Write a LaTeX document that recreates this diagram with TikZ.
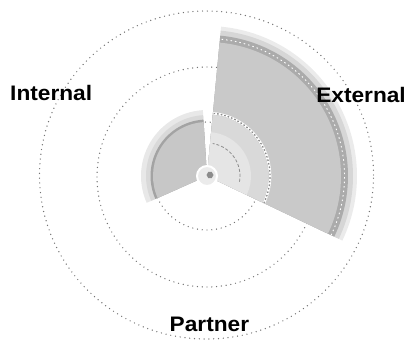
\documentclass[tikz,border=0pt]{standalone}
\usepackage{fontspec}
\usetikzlibrary{shapes.geometric}
\newfontfamily\lblfont[FakeStretch=1.08]{Liberation Sans}
\begin{document}
\begin{tikzpicture}[x=1pt,y=1pt,
  dotc/.style={draw=black!55, line width=1.4pt, line cap=round, dash pattern=on 0pt off 4.8pt},
  lbl/.style={font=\lblfont\bfseries\fontsize{21}{21}\selectfont, text=black, inner sep=0pt}]
\useasboundingbox (0,0) rectangle (406,341);
\coordinate (C) at (207,165);
\newcommand{\sect}[4]{\fill[#4] (C) -- ++(#1:#3) arc[start angle=#1, end angle=#2, radius=#3] -- cycle;}
\newcommand{\arcat}[4]{\draw[#4] (C) ++(#1:#3) arc[start angle=#1, end angle=#2, radius=#3];}
% dotted orbits
\draw[dotc] (206.5,166) ellipse [x radius=167, y radius=164];
\draw[dotc] (207,164) circle [radius=110];
\draw[dotc] (C) circle [radius=54];
% external sector
\sect{-25.5}{84.6}{150}{fill=black!8}
\sect{-25.5}{84.6}{146}{fill=black!16}
\sect{-25.5}{84.6}{141}{fill=black!33}
\arcat{-25.5}{84.6}{137.5}{draw=white, line width=0.9pt, dash pattern=on 1.5pt off 3pt}
\sect{-25.5}{84.6}{134}{fill=black!21}
\sect{-25.5}{84.6}{64}{fill=black!27}
\arcat{-25.5}{84.6}{63}{draw=white, line width=2.6pt}
\arcat{-25.5}{84.6}{63}{draw=black!45, line width=1.3pt, dash pattern=on 1.6pt off 2pt}
\sect{-25.5}{84.6}{61.5}{fill=black!15}
\sect{-25.5}{84.6}{44}{fill=black!10}
\arcat{-10}{80}{33}{draw=black!45, line width=0.8pt, dash pattern=on 3pt off 2pt}
% internal sector
\sect{93.6}{204}{66}{fill=black!9}
\sect{93.6}{204}{61}{fill=black!15}
\sect{93.6}{204}{56.5}{fill=black!36}
\sect{93.6}{204}{54}{fill=black!22}
% centre
\draw[white, line width=2pt, fill=black!8] (C) circle [radius=10];
\node[draw=none, fill=black!45, regular polygon, regular polygon sides=6, minimum size=7pt, inner sep=0pt] (hub) at ([shift={(3,1)}]C) {};
% labels
\node[lbl, anchor=base west] (int) at (10,240.5) {Internal};
\node[lbl, anchor=base east] (ext) at (406,238.5) {External};
\node[lbl, anchor=base west] (par) at (169.5,9.5) {Partner};
\end{tikzpicture}
\end{document}
